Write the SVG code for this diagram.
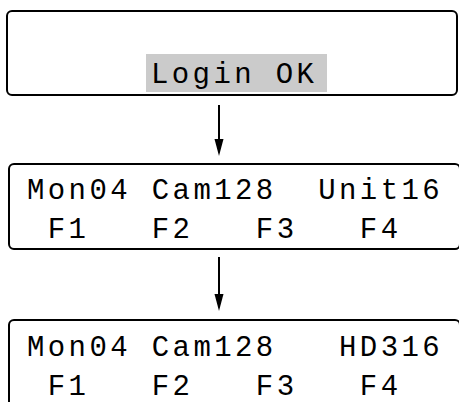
<svg xmlns="http://www.w3.org/2000/svg" width="459" height="402" viewBox="0 0 459 402">
<defs>
<style>
.box{fill:#fff;stroke:#000;stroke-width:2}
.lcd{font-family:"Courier New","Liberation Mono",monospace;font-size:29px;letter-spacing:3.4px;fill:#000;white-space:pre}
.conn line{stroke:#000;stroke-width:2}
.conn polygon{fill:#000}
</style>
</defs>
<rect width="459" height="402" fill="#fff"/>
<g id="screen-login">
<rect class="box" x="7" y="11" width="450" height="84" rx="5"/>
<rect x="146" y="54" width="181" height="38" fill="#cbcbcb"/>
<text class="lcd" x="151" y="83" xml:space="preserve">Login OK</text>
</g>
<g id="screen-unit">
<rect class="box" x="9" y="164" width="451" height="85" rx="5"/>
<text class="lcd" x="27" y="199" xml:space="preserve">Mon04 Cam128  Unit16</text>
<text class="lcd" x="27" y="238" xml:space="preserve"> F1   F2   F3   F4</text>
</g>
<g id="screen-hd">
<rect class="box" x="9" y="320" width="451" height="100" rx="5"/>
<text class="lcd" x="27" y="356" xml:space="preserve">Mon04 Cam128   HD316</text>
<text class="lcd" x="27" y="395" xml:space="preserve"> F1   F2   F3   F4</text>
</g>
<g id="connectors" class="conn">
<line x1="219" y1="105" x2="219" y2="141"/>
<polygon points="214.5,139 223.5,139 219,156"/>
<line x1="219" y1="257" x2="219" y2="296"/>
<polygon points="214.5,294 223.5,294 219,311"/>
</g>
</svg>
